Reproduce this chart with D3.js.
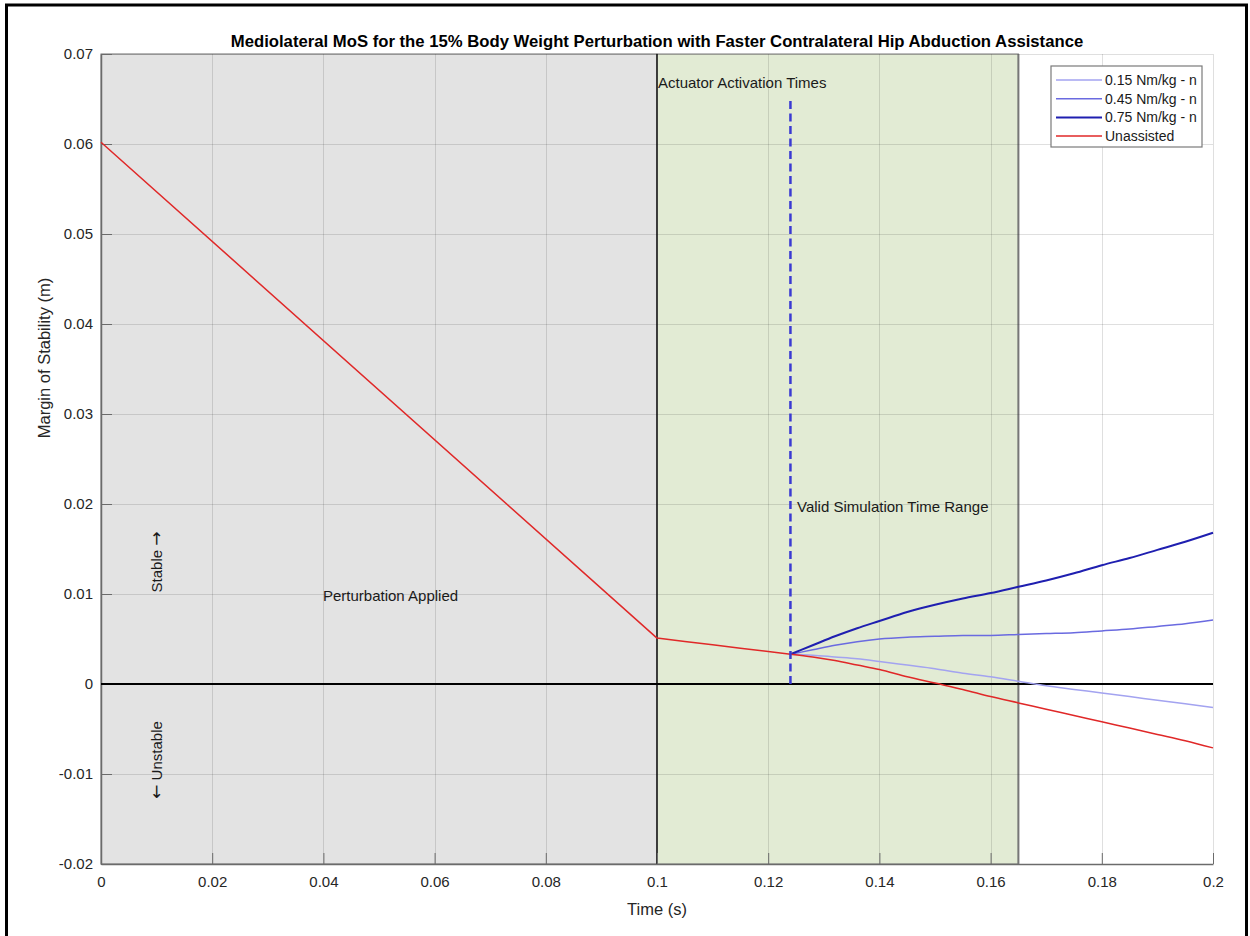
<!DOCTYPE html>
<html>
<head>
<meta charset="utf-8">
<script src="https://cdn.jsdelivr.net/npm/d3@7"></script>
<style>
  html, body { margin: 0; padding: 0; background: #fff; }
  svg { display: block; font-family: "Liberation Sans", Arial, sans-serif; }
</style>
</head>
<body>
<svg id="chart" width="1250" height="936"></svg>
<script>
// Axis ticks
const xTicks = [0, 0.02, 0.04, 0.06, 0.08, 0.1, 0.12, 0.14, 0.16, 0.18, 0.2];
const yTicks = [-0.02, -0.01, 0, 0.01, 0.02, 0.03, 0.04, 0.05, 0.06, 0.07];
const xTickLabels = ["0", "0.02", "0.04", "0.06", "0.08", "0.1", "0.12", "0.14", "0.16", "0.18", "0.2"];
const yTickLabels = ["-0.02", "-0.01", "0", "0.01", "0.02", "0.03", "0.04", "0.05", "0.06", "0.07"];

// Shaded phases (s)
const perturbationWindow = [0, 0.1];
const validSimWindow = [0.1, 0.165];
const activationTime = 0.124;
const activationMarkerTop = 0.065;

// Unassisted MoS (m): piecewise-linear until activation, then smooth
const unassistedTime = [0, 0.1, 0.105, 0.11, 0.115, 0.12, 0.124, 0.128, 0.132, 0.136, 0.14, 0.145, 0.15, 0.155, 0.16, 0.165, 0.17, 0.175, 0.18, 0.185, 0.19, 0.195, 0.2];
const unassistedMoS = [0.0602, 0.0051, 0.00473, 0.00435, 0.00398, 0.0036, 0.0033, 0.0030, 0.0026, 0.0021, 0.0016, 0.0008, 0.0001, -0.0006, -0.0014, -0.0021, -0.0028, -0.0035, -0.0042, -0.0049, -0.0056, -0.0063, -0.0071];

// Assisted MoS (m), from actuator activation onward
const assistTime = [0.124, 0.128, 0.132, 0.136, 0.14, 0.145, 0.15, 0.155, 0.16, 0.165, 0.17, 0.175, 0.18, 0.185, 0.19, 0.195, 0.2];
const mos015 = [0.0033, 0.0032, 0.0030, 0.0028, 0.0025, 0.0021, 0.0017, 0.0012, 0.0008, 0.0003, -0.0002, -0.0006, -0.0010, -0.0014, -0.0018, -0.0022, -0.0026];
const mos045 = [0.0033, 0.0038, 0.0043, 0.0047, 0.0050, 0.0052, 0.0053, 0.0054, 0.0054, 0.0055, 0.0056, 0.0057, 0.0059, 0.0061, 0.0064, 0.0067, 0.0071];
const mos075 = [0.0033, 0.0043, 0.0053, 0.0062, 0.0070, 0.0080, 0.0088, 0.0095, 0.0101, 0.0108, 0.0115, 0.0123, 0.0132, 0.0140, 0.0149, 0.0158, 0.0168];

const seriesNames = ["0.15 Nm/kg - n", "0.45 Nm/kg - n", "0.75 Nm/kg - n", "Unassisted"];
const seriesColors = ["#a3a3f0", "#6a6ae0", "#1f1fb0", "#e02828"];
const seriesWidths = [1.5, 1.5, 2, 1.5];

const svg = d3.select("#chart");
const W = 1250, H = 936;
const plot = { left: 101, right: 1213, top: 54, bottom: 864 };

svg.append("rect").attr("width", W).attr("height", H).attr("fill", "#fff");

const x = d3.scaleLinear().domain([0, 0.2]).range([plot.left, plot.right]);
const y = d3.scaleLinear().domain([-0.02, 0.07]).range([plot.bottom, plot.top]);

// Phase patches
svg.append("rect")
  .attr("x", x(perturbationWindow[0])).attr("y", y(0.07))
  .attr("width", x(perturbationWindow[1]) - x(perturbationWindow[0]))
  .attr("height", y(-0.02) - y(0.07))
  .attr("fill", "#e3e3e3").attr("stroke", "#6e6e6e").attr("stroke-width", 1);
svg.append("rect")
  .attr("x", x(validSimWindow[0])).attr("y", y(0.07))
  .attr("width", x(validSimWindow[1]) - x(validSimWindow[0]))
  .attr("height", y(-0.02) - y(0.07))
  .attr("fill", "#e2ebd4").attr("stroke", "#7a7a7a").attr("stroke-width", 1);
svg.append("line")
  .attr("x1", x(validSimWindow[1])).attr("x2", x(validSimWindow[1]))
  .attr("y1", y(0.07)).attr("y2", y(-0.02))
  .attr("stroke", "#777").attr("stroke-width", 2);

// Grid
const grid = svg.append("g").attr("stroke", "rgba(38,38,38,0.15)").attr("stroke-width", 1);
xTicks.forEach(t => grid.append("line")
  .attr("x1", Math.round(x(t)) + 0.5).attr("x2", Math.round(x(t)) + 0.5)
  .attr("y1", plot.top).attr("y2", plot.bottom));
yTicks.forEach(t => grid.append("line")
  .attr("x1", plot.left).attr("x2", plot.right)
  .attr("y1", Math.round(y(t)) + 0.5).attr("y2", Math.round(y(t)) + 0.5));

// Start of assistance window
svg.append("line")
  .attr("x1", x(0.1)).attr("x2", x(0.1))
  .attr("y1", y(0.07)).attr("y2", y(-0.02))
  .attr("stroke", "#000").attr("stroke-width", 1.2);

// Axes (ticks inward)
const xAxis = d3.axisBottom(x).tickValues(xTicks)
  .tickFormat((d, i) => xTickLabels[i]).tickSizeInner(-11).tickSizeOuter(0).tickPadding(12);
const yAxis = d3.axisLeft(y).tickValues(yTicks)
  .tickFormat((d, i) => yTickLabels[i]).tickSizeInner(-11).tickSizeOuter(0).tickPadding(8);

const gx = svg.append("g").attr("transform", `translate(0,${plot.bottom})`).call(xAxis);
const gy = svg.append("g").attr("transform", `translate(${plot.left},0)`).call(yAxis);
[gx, gy].forEach(g => {
  g.select(".domain").attr("stroke", "#6b6b6b").attr("stroke-width", 1.5);
  g.selectAll(".tick line").attr("stroke", "#6b6b6b").attr("stroke-width", 1);
  g.selectAll(".tick text").attr("fill", "#262626").attr("font-size", 15)
    .attr("font-family", "Liberation Sans, Arial, sans-serif");
});
gx.selectAll(".tick text").attr("dy", "0.71em");

// Zero-MoS reference line
svg.append("line")
  .attr("x1", x(0)).attr("x2", x(0.2))
  .attr("y1", y(0)).attr("y2", y(0))
  .attr("stroke", "#000").attr("stroke-width", 2.2);

// MoS curves
const smooth = d3.line().x(d => x(d[0])).y(d => y(d[1])).curve(d3.curveMonotoneX);
const straight = d3.line().x(d => x(d[0])).y(d => y(d[1])).curve(d3.curveLinear);
const assisted = [mos015, mos045, mos075];
assisted.forEach((vals, i) => {
  svg.append("path")
    .datum(assistTime.map((t, j) => [t, vals[j]]))
    .attr("d", smooth).attr("fill", "none")
    .attr("stroke", seriesColors[i]).attr("stroke-width", seriesWidths[i]);
});
const unassisted = unassistedTime.map((t, j) => [t, unassistedMoS[j]]);
const splitIdx = unassistedTime.indexOf(activationTime);
svg.append("path")
  .attr("d", straight(unassisted.slice(0, splitIdx + 1)) + smooth(unassisted.slice(splitIdx)).replace(/^M/, "L"))
  .attr("fill", "none").attr("stroke", seriesColors[3]).attr("stroke-width", seriesWidths[3])
  .attr("stroke-linejoin", "round");

// Actuator activation marker
svg.append("line")
  .attr("x1", x(activationTime)).attr("x2", x(activationTime))
  .attr("y1", y(0)).attr("y2", y(activationMarkerTop))
  .attr("stroke", "#3a3ad2").attr("stroke-width", 2.5)
  .attr("stroke-dasharray", "8,4.5");

// Annotations
const ann = svg.append("g").attr("fill", "#1a1a1a").attr("font-size", 15);
ann.append("text").attr("x", x(0.1) + 1).attr("y", 88).text("Actuator Activation Times");
ann.append("text").attr("x", 797).attr("y", 512).text("Valid Simulation Time Range");
ann.append("text").attr("x", 323).attr("y", 601).text("Perturbation Applied");
const stable = ann.append("text").attr("transform", "translate(162,562) rotate(-90)")
  .attr("text-anchor", "middle");
stable.append("tspan").text("Stable ");
stable.append("tspan").attr("font-family", "DejaVu Sans").attr("font-size", 17).text("\u2192");
const unstable = ann.append("text").attr("transform", "translate(162,760) rotate(-90)")
  .attr("text-anchor", "middle");
unstable.append("tspan").attr("font-family", "DejaVu Sans").attr("font-size", 17).text("\u2190");
unstable.append("tspan").text(" Unstable");

// Legend
const lg = svg.append("g").attr("transform", "translate(1051,66)");
lg.append("rect").attr("width", 151).attr("height", 81)
  .attr("fill", "#fff").attr("stroke", "#7a7a7a").attr("stroke-width", 1.2);
seriesNames.forEach((name, i) => {
  const cy = 14 + i * 18.7;
  lg.append("line").attr("x1", 5).attr("x2", 51).attr("y1", cy).attr("y2", cy)
    .attr("stroke", seriesColors[i]).attr("stroke-width", seriesWidths[i]);
  lg.append("text").attr("x", 54).attr("y", cy).attr("dy", "0.35em")
    .attr("font-size", 14).attr("fill", "#1a1a1a").text(name);
});

// Titles
svg.append("text").attr("x", (plot.left + plot.right) / 2).attr("y", 47)
  .attr("text-anchor", "middle").attr("font-weight", "bold").attr("font-size", 16.7)
  .attr("fill", "#000")
  .text("Mediolateral MoS for the 15% Body Weight Perturbation with Faster Contralateral Hip Abduction Assistance");
svg.append("text").attr("x", (plot.left + plot.right) / 2).attr("y", 915)
  .attr("text-anchor", "middle").attr("font-size", 16.5).attr("fill", "#262626")
  .text("Time (s)");
svg.append("text").attr("transform", "translate(50,358) rotate(-90)")
  .attr("text-anchor", "middle").attr("font-size", 16.5).attr("fill", "#262626")
  .text("Margin of Stability (m)");

// Outer frame
svg.append("rect").attr("x", 6.5).attr("y", 5).attr("width", 1240).attr("height", 980)
  .attr("fill", "none").attr("stroke", "#000").attr("stroke-width", 3);
</script>
</body>
</html>
